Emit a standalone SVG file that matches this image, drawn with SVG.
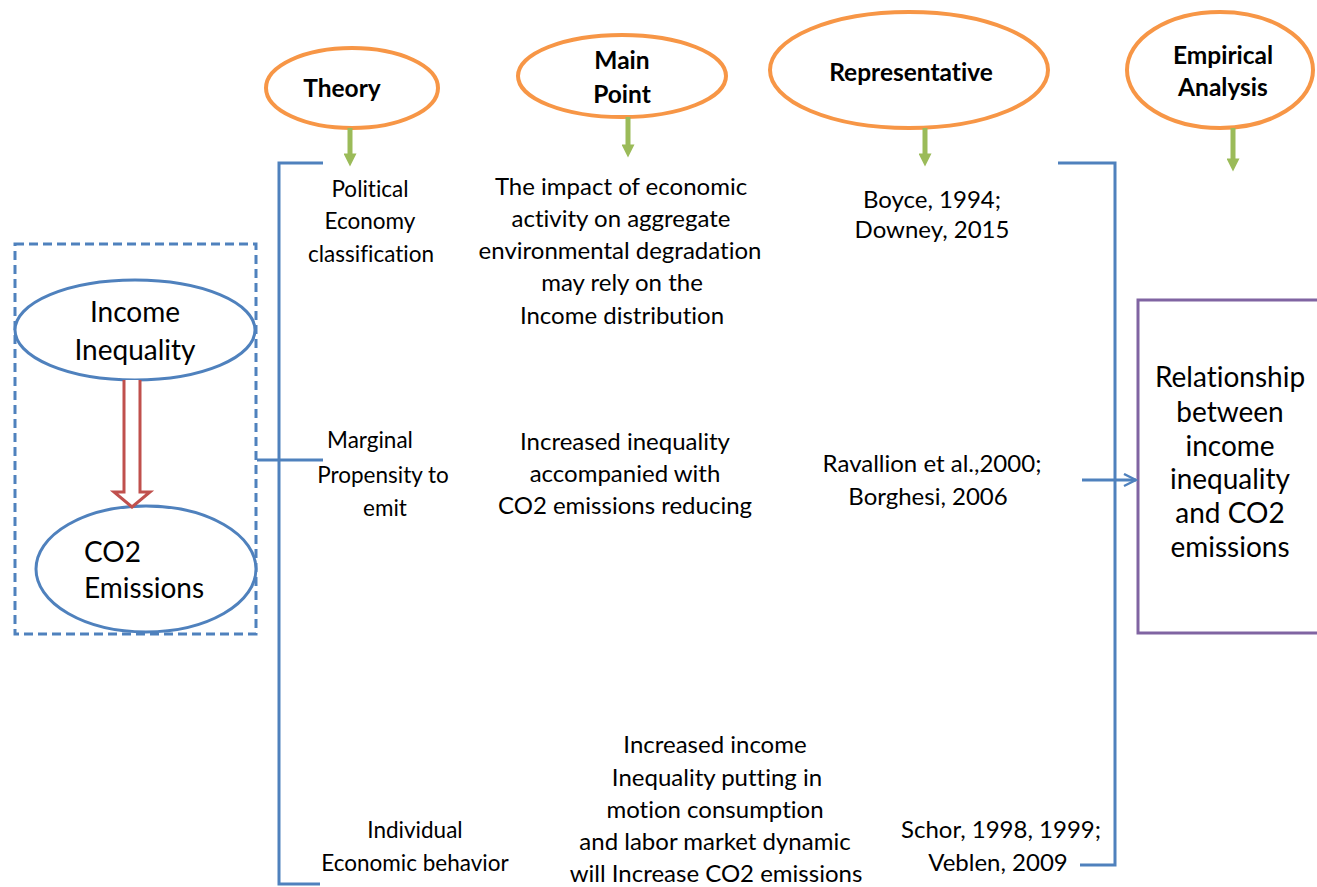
<svg xmlns="http://www.w3.org/2000/svg" width="1317" height="887" viewBox="0 0 1317 887">
<defs>
<style>
text{font-family:Lato,"Open Sans","Liberation Sans",sans-serif;fill:#000;text-anchor:middle;font-variant-ligatures:none;font-feature-settings:"liga" 0}
.h{font-size:24.5px;font-weight:bold}
.b{font-size:24px}
.c{font-size:22.5px}
.l{font-size:28px}
.r{font-size:28px}
.orange{fill:#fff;stroke:#F79646;stroke-width:4}
.blue{fill:none;stroke:#4F81BD;stroke-width:3}
.green{stroke:#9BBB59;stroke-width:5;fill:none}
</style>
<marker id="ga" viewBox="0 0 10 10" refX="5" refY="5" markerWidth="3.2" markerHeight="2.6" orient="auto"><path d="M0,0 L10,5 L0,10 z" fill="#9BBB59"/></marker>
<marker id="ba" viewBox="0 0 10 10" refX="9" refY="5" markerWidth="5" markerHeight="5" orient="auto" markerUnits="strokeWidth"><path d="M1,1 L9,5 L1,9" fill="none" stroke="#4F81BD" stroke-width="1.6"/></marker>
</defs>
<rect width="1317" height="887" fill="#fff"/>

<g id="left-group">
<rect x="15" y="244" width="241" height="390" fill="none" stroke="#4F81BD" stroke-width="3" stroke-dasharray="9,5"/>
</g>
<g id="income-inequality">
<ellipse cx="135" cy="330" rx="120" ry="50" fill="#fff" stroke="#4F81BD" stroke-width="3"/>
<text class="l" x="135" y="322">Income</text>
<text class="l" x="135" y="360">Inequality</text>
</g>
<g id="co2-emissions">
<ellipse cx="146" cy="569" rx="110" ry="63" fill="#fff" stroke="#4F81BD" stroke-width="3"/>
<text class="l" x="84" y="562" style="text-anchor:start">CO2</text>
<text class="l" x="84" y="598" style="text-anchor:start">Emissions</text>
</g>

<g id="head-theory">
<ellipse class="orange" cx="352" cy="88" rx="86" ry="40"/>
<text class="h" x="342" y="97">Theory</text>
</g>
<g id="head-mainpoint">
<ellipse class="orange" cx="622" cy="76" rx="104" ry="41"/>
<text class="h" x="622" y="69">Main</text>
<text class="h" x="622" y="103">Point</text>
</g>
<g id="head-representative">
<ellipse class="orange" cx="909" cy="70" rx="139" ry="58"/>
<text class="h" x="911" y="81">Representative</text>
</g>
<g id="head-empirical">
<ellipse class="orange" cx="1220" cy="70" rx="93" ry="58"/>
<text class="h" x="1223" y="64">Empirical</text>
<text class="h" x="1223" y="96">Analysis</text>
</g>

<g id="result">
<rect x="1138" y="300" width="190" height="333" fill="#fff" stroke="#8064A2" stroke-width="3"/>
<text class="r" x="1230" y="387">Relationship</text>
<text class="r" x="1230" y="422">between</text>
<text class="r" x="1230" y="456">income</text>
<text class="r" x="1230" y="489">inequality</text>
<text class="r" x="1230" y="523">and CO2</text>
<text class="r" x="1230" y="557">emissions</text>
</g>

<g id="row1">
<text class="c" x="370" y="197">Political</text>
<text class="c" x="370" y="229">Economy</text>
<text class="c" x="371" y="262">classification</text>
<text class="b" x="621" y="195">The impact of economic</text>
<text class="b" x="621" y="227">activity on aggregate</text>
<text class="b" x="620" y="259">environmental degradation</text>
<text class="b" x="622" y="291">may rely on the</text>
<text class="b" x="622" y="324">Income distribution</text>
<text class="b" x="932" y="208">Boyce, 1994;</text>
<text class="b" x="932" y="238">Downey, 2015</text>
</g>
<g id="row2">
<text class="c" x="370" y="448">Marginal</text>
<text class="c" x="383" y="483">Propensity to</text>
<text class="c" x="385" y="516">emit</text>
<text class="b" x="625" y="450">Increased inequality</text>
<text class="b" x="625" y="482">accompanied with</text>
<text class="b" x="625" y="514">CO2 emissions reducing</text>
<text class="b" x="932" y="472">Ravallion et al.,2000;</text>
<text class="b" x="928" y="505">Borghesi, 2006</text>
</g>
<g id="row3">
<text class="c" x="415" y="838">Individual</text>
<text class="c" x="415" y="871">Economic behavior</text>
<text class="b" x="715" y="753">Increased income</text>
<text class="b" x="717" y="786">Inequality putting in</text>
<text class="b" x="715" y="818">motion consumption</text>
<text class="b" x="715" y="850">and labor market dynamic</text>
<text class="b" x="716" y="882">will Increase CO2 emissions</text>
<text class="b" x="1001" y="838">Schor, 1998, 1999;</text>
<text class="b" x="998" y="871">Veblen, 2009</text>
</g>

<g id="connectors">
<path d="M124,380 V492 H114 L132,507 L150,492 H140 V380" fill="#fff" stroke="#C0504D" stroke-width="3"/>
<line class="green" x1="350" y1="128" x2="350" y2="160" marker-end="url(#ga)"/>
<line class="green" x1="628" y1="117" x2="628" y2="151" marker-end="url(#ga)"/>
<line class="green" x1="925" y1="128" x2="925" y2="160" marker-end="url(#ga)"/>
<line class="green" x1="1233" y1="128" x2="1233" y2="165" marker-end="url(#ga)"/>
<path class="blue" d="M323,163 H279 V884 H320"/>
<line class="blue" x1="257" y1="460" x2="323" y2="460"/>
<path class="blue" d="M1058,163 H1115 V865 H1080"/>
<line class="blue" x1="1082" y1="480" x2="1136" y2="480" marker-end="url(#ba)"/>
</g>
</svg>
